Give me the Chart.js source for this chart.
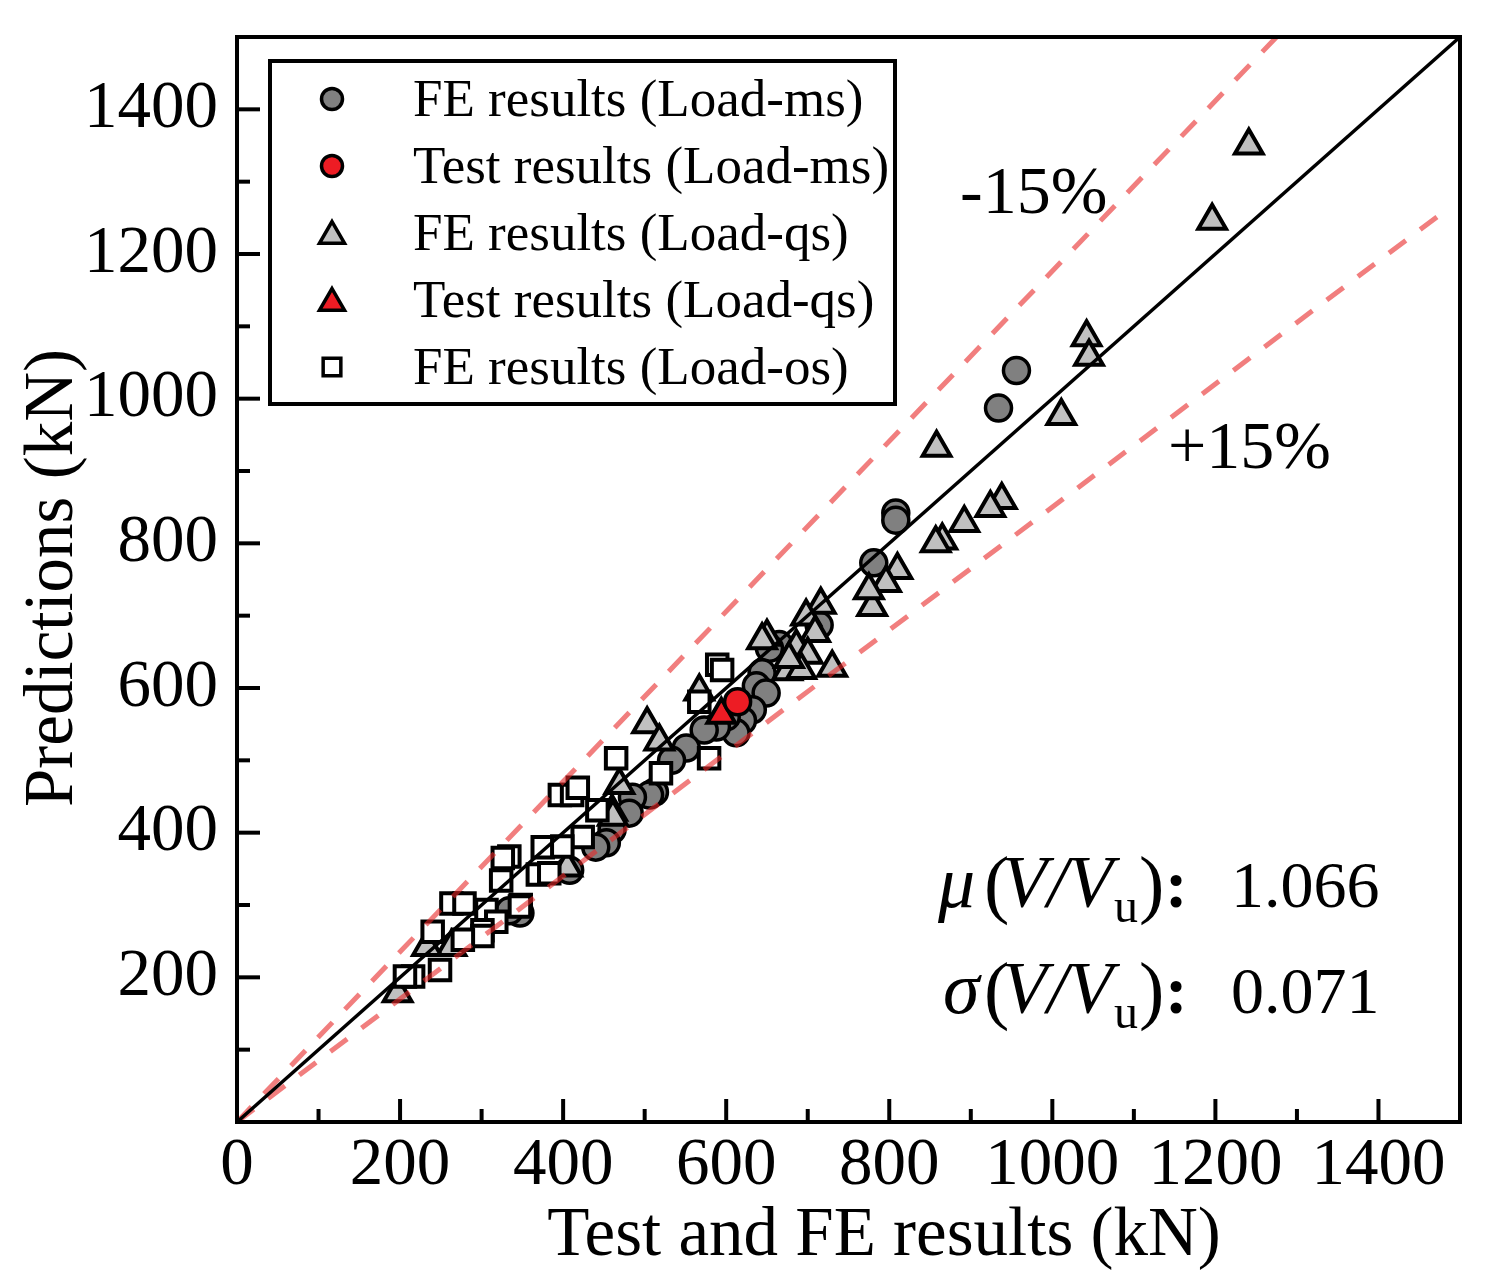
<!DOCTYPE html>
<html>
<head>
<meta charset="utf-8">
<script src="https://cdn.jsdelivr.net/npm/chart.js@4/dist/chart.umd.min.js"></script>
<style>
  html, body { margin: 0; padding: 0; background: #fff; }
  #wrap { width: 1492px; height: 1283px; position: relative; }
</style>
</head>
<body>
<div id="wrap"><canvas id="chart"></canvas></div>
<script>
// tick values
const xTickValues = [0, 200, 400, 600, 800, 1000, 1200, 1400]
const yTickValues = [200, 400, 600, 800, 1000, 1200, 1400]
const minorTickValues = [100, 200, 300, 400, 500, 600, 700, 800, 900, 1000, 1100, 1200, 1300, 1400]

// reference lines (end points)
const lineEqual = [[0, 0], [1500, 1500]]
const lineMinus15 = [[0, 0], [1275, 1500]]
const linePlus15 = [[0, 0], [1482, 1260]]

// series: [test/FE, prediction]
const feMs = [
  [956, 1039], [934, 987], [808, 842], [808, 832], [781, 773], [714, 687],
  [665, 660], [653, 655], [644, 621], [637, 603], [649, 593], [632, 570],
  [620, 555], [612, 538], [600, 560], [588, 546], [573, 542], [551, 517],
  [533, 500], [512, 456], [506, 452], [485, 449], [481, 427], [460, 404],
  [453, 386], [440, 380], [408, 348], [347, 289], [334, 292]
]
const testMs = [[614, 581]]
const feQs = [
  [1241, 1350], [1196, 1246], [1042, 1085], [1045, 1058], [1011, 976],
  [858, 932], [938, 860], [924, 849], [892, 828], [865, 804], [857, 800],
  [810, 763], [796, 745], [779, 712], [775, 735], [716, 715], [698, 699],
  [709, 676], [686, 657], [700, 646], [675, 623], [692, 625], [730, 628],
  [650, 671], [644, 666], [677, 640], [567, 595], [503, 550], [518, 526],
  [469, 466], [460, 429], [461, 422], [405, 352], [263, 242], [233, 242],
  [197, 178]
]
const testQs = [[594, 563]]
const feOs = [
  [589, 632], [595, 625], [567, 581], [465, 503], [579, 503], [520, 482],
  [396, 452], [411, 452], [418, 462], [442, 431], [424, 394], [375, 380],
  [399, 381], [334, 367], [326, 365], [369, 342], [383, 344], [324, 334],
  [348, 300], [347, 298], [263, 302], [279, 302], [306, 293], [318, 277],
  [301, 265], [301, 257], [277, 252], [240, 263], [249, 210], [216, 201],
  [206, 201]
]

const serif = '"Liberation Serif", "Times New Roman", serif'

const toPts = arr => arr.map(([x, y]) => ({ x, y }))

function drawMarker(ctx, style, x, y, r) {
  ctx.beginPath()
  if (style === 'circle') {
    ctx.arc(x, y, r, 0, Math.PI * 2)
  } else if (style === 'triangle') {
    let rad = 0
    ctx.moveTo(x + Math.sin(rad) * r, y - Math.cos(rad) * r)
    rad += Math.PI * 2 / 3
    ctx.lineTo(x + Math.sin(rad) * r, y - Math.cos(rad) * r)
    rad += Math.PI * 2 / 3
    ctx.lineTo(x + Math.sin(rad) * r, y - Math.cos(rad) * r)
    ctx.closePath()
  } else {
    const s = r * Math.SQRT1_2
    ctx.rect(x - s, y - s, 2 * s, 2 * s)
  }
  ctx.fill()
  ctx.stroke()
}

// frame, inward ticks, legend and the text labels
const decorPlugin = {
  id: 'decor',
  afterDraw(chart) {
    const { ctx, chartArea: a } = chart
    const x = chart.scales.x
    const y = chart.scales.y
    ctx.save()
    ctx.strokeStyle = '#000'
    ctx.lineWidth = 4
    ctx.lineCap = 'butt'

    minorTickValues.forEach(v => {
      const len = v % 200 === 0 ? 23 : 13
      const px = x.getPixelForValue(v)
      ctx.beginPath(); ctx.moveTo(px, a.bottom); ctx.lineTo(px, a.bottom - len); ctx.stroke()
      const py = y.getPixelForValue(v)
      ctx.beginPath(); ctx.moveTo(a.left, py); ctx.lineTo(a.left + len, py); ctx.stroke()
    })
    ctx.strokeRect(a.left, a.top, a.right - a.left, a.bottom - a.top)

    // legend box
    const box = { l: 270, t: 61, r: 895, b: 404 }
    ctx.fillStyle = '#fff'
    ctx.fillRect(box.l, box.t, box.r - box.l, box.b - box.t)
    ctx.strokeRect(box.l, box.t, box.r - box.l, box.b - box.t)
    const rows = [
      { label: 'FE results (Load-ms)', style: 'circle', fill: '#808080', r: 10.5 },
      { label: 'Test results (Load-ms)', style: 'circle', fill: '#ED1C24', r: 10.5 },
      { label: 'FE results (Load-qs)', style: 'triangle', fill: '#C0C0C0', r: 14.5 },
      { label: 'Test results (Load-qs)', style: 'triangle', fill: '#ED1C24', r: 14.5 },
      { label: 'FE results (Load-os)', style: 'rect', fill: '#FFFFFF', r: 12.5 }
    ]
    ctx.font = '53px ' + serif
    ctx.textBaseline = 'alphabetic'
    ctx.textAlign = 'left'
    rows.forEach((row, i) => {
      const cy = 99 + i * 67
      ctx.fillStyle = row.fill
      ctx.strokeStyle = '#000'
      ctx.lineWidth = 3.5
      drawMarker(ctx, row.style, 332, row.style === 'triangle' ? cy + 3 : cy, row.r)
      ctx.fillStyle = '#000'
      ctx.fillText(row.label, 413, cy + 17)
    })

    // axis titles
    ctx.fillStyle = '#000'
    ctx.font = '69px ' + serif
    ctx.textAlign = 'center'
    ctx.fillText('Test and FE results (kN)', 884, 1255)
    ctx.save()
    ctx.translate(72, 578)
    ctx.rotate(-Math.PI / 2)
    ctx.fillText('Predictions (kN)', 0, 0)
    ctx.restore()

    // band labels
    ctx.font = '68px ' + serif
    ctx.textAlign = 'left'
    ctx.fillText('-15%', 960, 213)
    ctx.fillText('+15%', 1168, 468)

    // statistics
    const statRows = [
      { sym: 'μ', value: '1.066', base: 907, symX: 938 },
      { sym: 'σ', value: '0.071', base: 1013, symX: 943 }
    ]
    statRows.forEach(s => {
      ctx.font = 'italic 74px ' + serif
      ctx.fillText(s.sym, s.symX, s.base)
      ctx.font = '76px ' + serif
      ctx.fillText('(', 984, s.base + 2)
      ctx.font = 'italic 74px ' + serif
      ctx.fillText('V/V', 1002, s.base)
      ctx.font = '48px ' + serif
      ctx.fillText('u', 1114, s.base + 15)
      ctx.font = '76px ' + serif
      ctx.fillText(')', 1139, s.base + 2)
      ctx.font = 'bold 68px ' + serif
      ctx.fillText(':', 1165, s.base)
      ctx.font = '66px ' + serif
      ctx.fillText(s.value, 1231, s.base)
    })
    ctx.restore()
  }
}

const refLine = (data, dash, color, width) => ({
  data: toPts(data),
  showLine: true,
  pointRadius: 0,
  borderColor: color,
  borderWidth: width,
  borderDash: dash,
  fill: false,
  order: 0
})

new Chart(document.getElementById('chart'), {
  type: 'scatter',
  data: {
    datasets: [
      refLine(lineEqual, [], '#000', 3.5),
      refLine(lineMinus15, [21, 18], 'rgba(232, 40, 40, 0.6)', 5),
      refLine(linePlus15, [21, 18], 'rgba(232, 40, 40, 0.6)', 5),
      {
        label: 'Test results (Load-ms)', data: toPts(testMs), order: 1,
        pointStyle: 'circle', pointRadius: 13, backgroundColor: '#ED1C24', borderColor: '#000', borderWidth: 3.5
      },
      {
        label: 'Test results (Load-qs)', data: toPts(testQs), order: 2,
        pointStyle: 'triangle', pointRadius: 16, backgroundColor: '#ED1C24', borderColor: '#000', borderWidth: 4
      },
      {
        label: 'FE results (Load-os)', data: toPts(feOs), order: 3,
        pointStyle: 'rect', pointRadius: 14.5, backgroundColor: '#fff', borderColor: '#000', borderWidth: 4
      },
      {
        label: 'FE results (Load-qs)', data: toPts(feQs), order: 4,
        pointStyle: 'triangle', pointRadius: 16, backgroundColor: '#C0C0C0', borderColor: '#000', borderWidth: 4
      },
      {
        label: 'FE results (Load-ms)', data: toPts(feMs), order: 5,
        pointStyle: 'circle', pointRadius: 13, backgroundColor: '#808080', borderColor: '#000', borderWidth: 3.5
      }
    ]
  },
  options: {
    responsive: true,
    maintainAspectRatio: false,
    animation: false,
    events: [],
    layout: { padding: { top: 37, right: 32, left: 0, bottom: 0 } },
    plugins: {
      legend: { display: false },
      tooltip: { enabled: false }
    },
    scales: {
      x: {
        type: 'linear', min: 0, max: 1500,
        grid: { display: false, drawTicks: false },
        border: { display: false },
        afterBuildTicks: s => { s.ticks = xTickValues.map(value => ({ value })) },
        afterFit: s => { s.height = 161; s.paddingLeft = 0; s.paddingRight = 0 },
        ticks: {
          color: '#000', padding: 4, maxRotation: 0, autoSkip: false,
          font: { family: serif, size: 67 },
          callback: v => String(v)
        }
      },
      y: {
        type: 'linear', min: 0, max: 1500,
        grid: { display: false, drawTicks: false },
        border: { display: false },
        afterBuildTicks: s => { s.ticks = yTickValues.map(value => ({ value })) },
        afterFit: s => { s.width = 237; s.paddingTop = 0; s.paddingBottom = 0 },
        ticks: {
          color: '#000', padding: 19, autoSkip: false,
          font: { family: serif, size: 67 },
          callback: v => String(v)
        }
      }
    }
  },
  plugins: [decorPlugin]
})
</script>
</body>
</html>
